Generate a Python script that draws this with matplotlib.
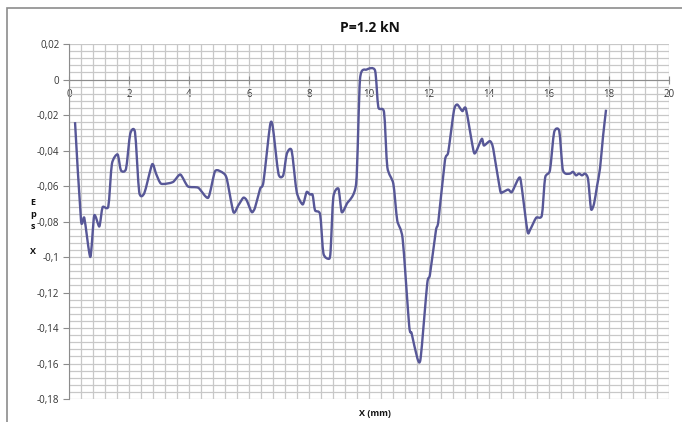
import matplotlib
matplotlib.use("Agg")
from matplotlib import pyplot as plt
from matplotlib.path import Path
import matplotlib.ticker as ticker
import matplotlib.patches as mpatches
import numpy as np

# strain profile along the specimen, P = 1.2 kN
x_mm = [0.2, 0.4, 0.51, 0.71, 0.84, 1.01, 1.12, 1.31, 1.43, 1.62, 1.73, 1.9,
        2.04, 2.2, 2.34, 2.51, 2.77, 2.9, 3.07, 3.46, 3.71, 3.96, 4.31, 4.64,
        4.87, 5.14, 5.26, 5.48, 5.64, 5.81, 5.92, 6.09, 6.2, 6.37, 6.48, 6.7,
        6.79, 6.98, 7.14, 7.26, 7.42, 7.59, 7.79, 7.92, 8.03, 8.12, 8.2, 8.37,
        8.48, 8.67, 8.72, 8.81, 8.98, 9.09, 9.26, 9.57, 9.7, 9.92, 10.2, 10.31,
        10.5, 10.61, 10.81, 10.94, 11.12, 11.34, 11.42, 11.61, 11.72, 11.94,
        12.03, 12.23, 12.31, 12.53, 12.64, 12.83, 12.94, 13.11, 13.23, 13.48,
        13.56, 13.76, 13.83, 14.03, 14.14, 14.37, 14.46, 14.64, 14.76, 14.98,
        15.06, 15.28, 15.37, 15.57, 15.76, 15.87, 16.03, 16.17, 16.34, 16.45,
        16.55, 16.7, 16.8, 16.9, 17.0, 17.1, 17.2, 17.3, 17.4, 17.5, 17.6,
        17.7, 17.8, 17.9]
eps_x = [-0.024, -0.0794, -0.078, -0.100, -0.0766, -0.0828, -0.0719, -0.0715,
         -0.0475, -0.0422, -0.0512, -0.0503, -0.0306, -0.0298, -0.0634,
         -0.064, -0.0478, -0.053, -0.0587, -0.0578, -0.0535, -0.0602, -0.061,
         -0.0666, -0.0516, -0.0527, -0.056, -0.0747, -0.071, -0.0666, -0.068,
         -0.0747, -0.0722, -0.0615, -0.0578, -0.0259, -0.0265, -0.053, -0.054,
         -0.0418, -0.040, -0.0634, -0.0704, -0.0634, -0.0648, -0.065, -0.0737,
         -0.076, -0.098, -0.101, -0.0963, -0.0663, -0.0615, -0.0747, -0.070,
         -0.0587, 0.0004, 0.0056, 0.0051, -0.0156, -0.0184, -0.0494, -0.0587,
         -0.0794, -0.0897, -0.139, -0.143, -0.157, -0.157, -0.115, -0.110,
         -0.085, -0.0800, -0.0456, -0.0409, -0.0175, -0.0141, -0.0178, -0.0165,
         -0.040, -0.0409, -0.0334, -0.0372, -0.0347, -0.039, -0.0625, -0.0634,
         -0.062, -0.0634, -0.0559, -0.0572, -0.0854, -0.0846, -0.0779, -0.0766,
         -0.0553, -0.0512, -0.0297, -0.029, -0.050, -0.053, -0.053, -0.052,
         -0.054, -0.053, -0.054, -0.053, -0.056, -0.073, -0.070, -0.060,
         -0.050, -0.032, -0.017]


def smooth_path(xs, ys, k=9.0):
    # cubic bezier through every point, softened Catmull-Rom tangents
    p = np.column_stack([xs, ys])
    pts = np.vstack([p[0], p, p[-1]])
    verts = [p[0]]
    codes = [Path.MOVETO]
    for i in range(1, len(pts) - 2):
        p0, p1, p2, p3 = pts[i - 1], pts[i], pts[i + 1], pts[i + 2]
        verts += [p1 + (p2 - p0) / k, p2 - (p3 - p1) / k, p2]
        codes += [Path.CURVE4] * 3
    return Path(verts, codes)


plt.rcParams['font.family'] = ['Open Sans', 'DejaVu Sans']

fig = plt.figure(figsize=(6.82, 4.22), dpi=100)
ax = fig.add_axes([0.1012, 0.0545, 0.8798, 0.8412])

# chart frame
fig.patches.append(mpatches.Rectangle((7 / 682, -0.02), 1.0, 1 - 8 / 422 + 0.02,
                                      transform=fig.transFigure, fill=False,
                                      edgecolor='#8c8c8c', lw=1.2))

ax.add_patch(mpatches.PathPatch(smooth_path(x_mm, eps_x), fill=False,
                                edgecolor='#575797', lw=1.7, joinstyle='round',
                                zorder=3))

ax.set_xlim(0, 20)
ax.set_ylim(-0.18, 0.02)
ax.xaxis.set_major_locator(ticker.MultipleLocator(2))
ax.xaxis.set_minor_locator(ticker.MultipleLocator(0.4))
ax.yaxis.set_major_locator(ticker.MultipleLocator(0.02))
ax.yaxis.set_minor_locator(ticker.MultipleLocator(0.004))
ax.grid(which='both', color='#c8c8c8', lw=0.9, zorder=0)
ax.set_axisbelow(True)

ax.yaxis.set_major_formatter(ticker.FuncFormatter(
    lambda v, p: '0' if abs(v) < 1e-9 else f'{v:.2f}'.rstrip('0').replace('.', ',')))

for s in ['top', 'right']:
    ax.spines[s].set_visible(False)
ax.spines['bottom'].set_position(('data', 0))
ax.spines['bottom'].set_color('#8c8c8c')
ax.spines['left'].set_color('#8c8c8c')
ax.tick_params(which='minor', length=0)
ax.tick_params(axis='x', which='major', direction='inout', length=6,
               color='#8c8c8c', labelsize=7, labelcolor='#333333', pad=4)
ax.tick_params(axis='y', which='major', direction='out', length=4,
               color='#8c8c8c', labelsize=7, labelcolor='#333333', pad=3)

fig.text(370 / 682, 1 - 28 / 422, 'P=1.2 kN', ha='center', va='center',
         fontsize=10, fontweight='bold', color='#111111')
fig.text(33 / 682, 1 - 227 / 422, 'E\np\ns\n\nX', ha='center', va='center',
         fontsize=6.5, fontweight='bold', linespacing=1.45, color='#111111')
fig.text(375 / 682, 1 - 414 / 422, 'X (mm)', ha='center', va='center',
         fontsize=6.5, fontweight='bold', color='#111111')

plt.savefig("out.png", dpi=100)
